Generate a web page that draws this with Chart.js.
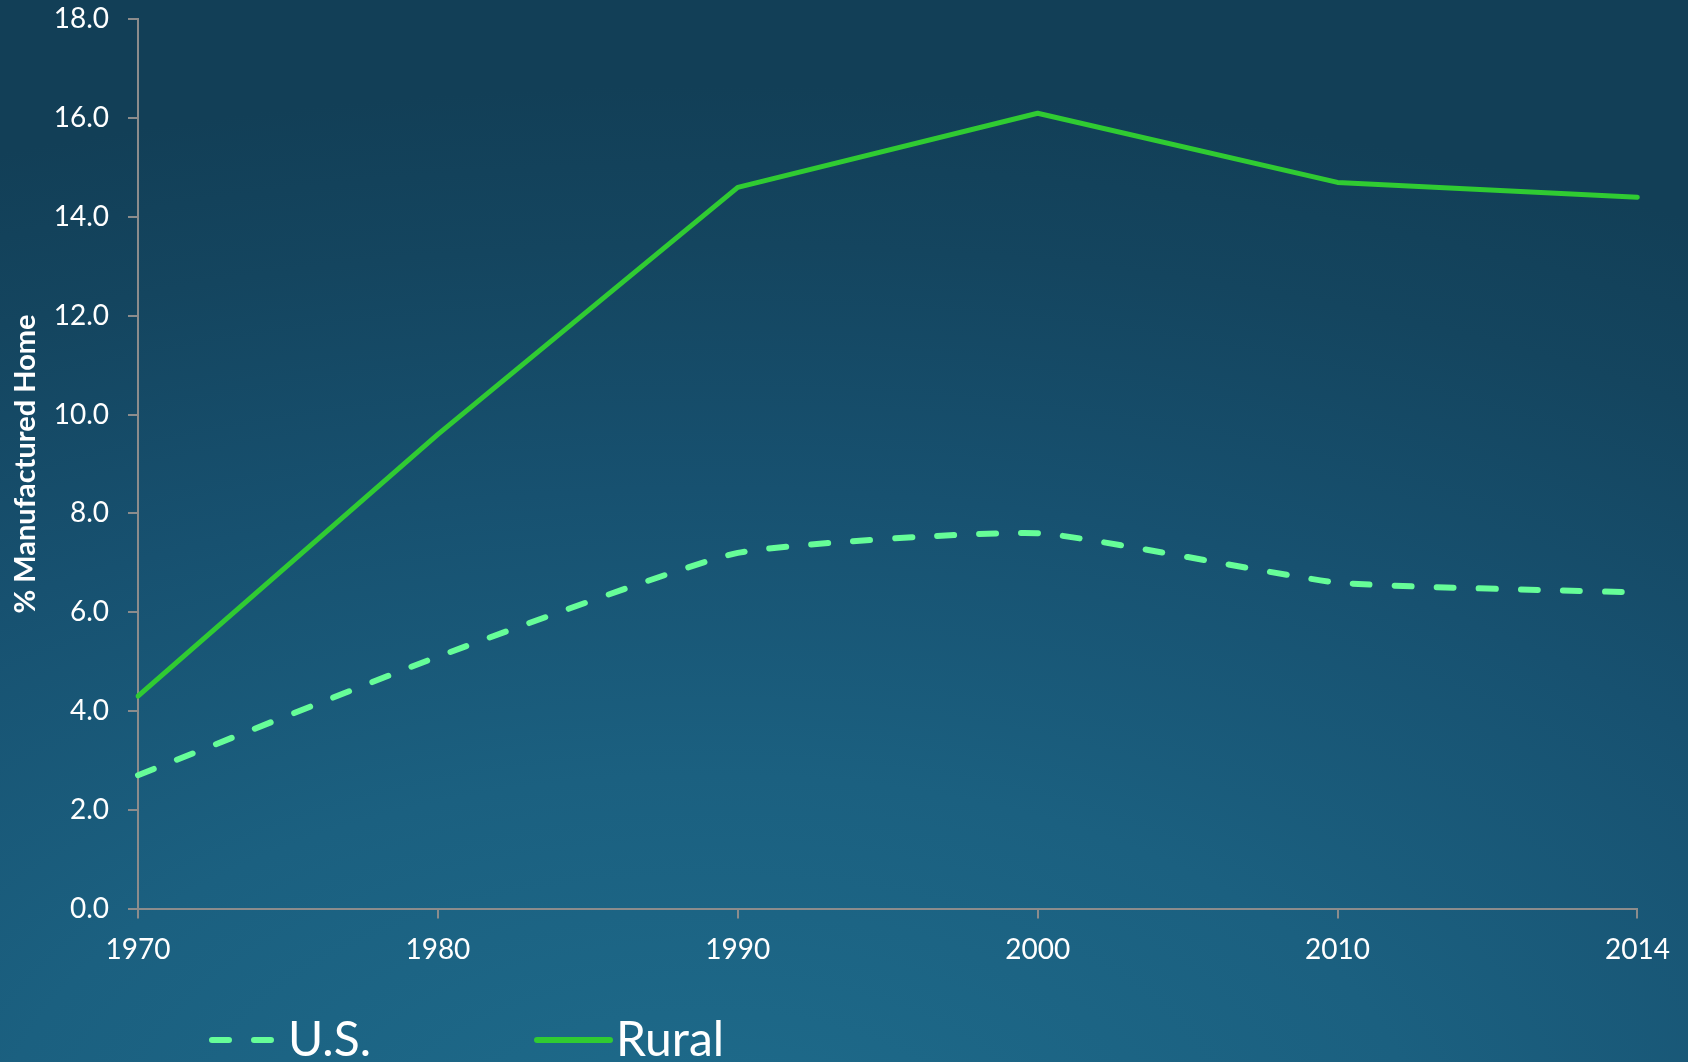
<!DOCTYPE html>
<html>
<head>
<meta charset="utf-8">
<script src="https://cdn.jsdelivr.net/npm/chart.js@4"></script>
<style>
  html, body { margin: 0; padding: 0; width: 1688px; height: 1062px; overflow: hidden; }
  body {
    background: radial-gradient(ellipse 120% 100% at 42% 108%, #1e6b8b 0%, #1b6080 35%, #175170 62%, #14455f 85%, #123f57 100%);
  }
  #wrap { position: absolute; left: 0; top: 0; width: 1688px; height: 1062px; }
</style>
</head>
<body>
<div id="wrap"><canvas id="c" width="1688" height="1062"></canvas></div>
<script>
const years = ['1970', '1980', '1990', '2000', '2010', '2014'];
const usValues = [2.7, 5.1, 7.2, 7.6, 6.6, 6.4];
const ruralValues = [4.3, 9.6, 14.6, 16.1, 14.7, 14.4];
const seriesNames = ['U.S.', 'Rural'];
const yTitle = '% Manufactured Home';

const FONT = 'Lato, "Open Sans", "Noto Sans", sans-serif';

const legendPlugin = {
  id: 'customLegend',
  afterDraw(chart) {
    const ctx = chart.ctx;
    const items = [
      { ds: chart.data.datasets[0], x0: 209, x1: 275, tx: 288 },
      { ds: chart.data.datasets[1], x0: 537, x1: 610, tx: 616 }
    ];
    const ly = 1040;
    ctx.save();
    items.forEach(it => {
      ctx.beginPath();
      ctx.strokeStyle = it.ds.borderColor;
      ctx.lineWidth = 6;
      ctx.lineCap = it.ds.borderCapStyle || 'butt';
      ctx.setLineDash(it.ds.borderDash ? [17, 25] : []);
      ctx.lineDashOffset = it.ds.borderDash ? -3 : 0;
      ctx.moveTo(it.x0, ly);
      ctx.lineTo(it.x1, ly);
      ctx.stroke();
      ctx.setLineDash([]);
      ctx.fillStyle = '#ffffff';
      ctx.font = '48px ' + FONT;
      ctx.textBaseline = 'alphabetic';
      ctx.textAlign = 'left';
      ctx.fillText(it.ds.label, it.tx, 1056);
    });
    ctx.restore();
  }
};

new Chart(document.getElementById('c'), {
  type: 'line',
  data: {
    labels: years,
    datasets: [
      {
        label: seriesNames[0],
        data: usValues,
        borderColor: '#66fd98',
        borderWidth: 6,
        borderDash: [17, 25],
        borderCapStyle: 'round',
        tension: 0.15,
        pointRadius: 0,
        fill: false
      },
      {
        label: seriesNames[1],
        data: ruralValues,
        borderColor: '#30cb32',
        borderWidth: 5,
        borderCapStyle: 'round',
        borderJoinStyle: 'round',
        tension: 0,
        pointRadius: 0,
        fill: false
      }
    ]
  },
  options: {
    responsive: false,
    animation: false,
    devicePixelRatio: 1,
    layout: { padding: { left: 0, top: 19.4, right: 50.6, bottom: 0 } },
    plugins: {
      legend: { display: false },
      tooltip: { enabled: false }
    },
    scales: {
      x: {
        type: 'category',
        offset: false,
        afterFit(scale) { scale.height = 1062 - 908.6 - 0; },
        grid: { display: true, drawOnChartArea: false, drawTicks: true, tickLength: 10, color: '#8c8c8c', lineWidth: 2 },
        border: { display: true, color: '#8c8c8c', width: 2 },
        ticks: { color: '#ffffff', font: { family: FONT, size: 28 }, padding: 15, maxRotation: 0, autoSkip: false }
      },
      y: {
        min: 0,
        max: 18,
        afterFit(scale) { scale.width = 138; scale.paddingTop = 0; scale.paddingBottom = 0; },
        grid: { display: true, drawOnChartArea: false, drawTicks: true, tickLength: 10, color: '#8c8c8c', lineWidth: 2 },
        border: { display: true, color: '#8c8c8c', width: 2 },
        ticks: {
          stepSize: 2,
          color: '#ffffff',
          font: { family: FONT, size: 28 },
          padding: 19,
          callback: v => Number(v).toFixed(1)
        },
        title: {
          display: true,
          text: yTitle,
          color: '#ffffff',
          font: { family: FONT, size: 29, weight: 'bold' },
          padding: { top: 8, bottom: 0 }
        }
      }
    }
  },
  plugins: [legendPlugin]
});
</script>
</body>
</html>
